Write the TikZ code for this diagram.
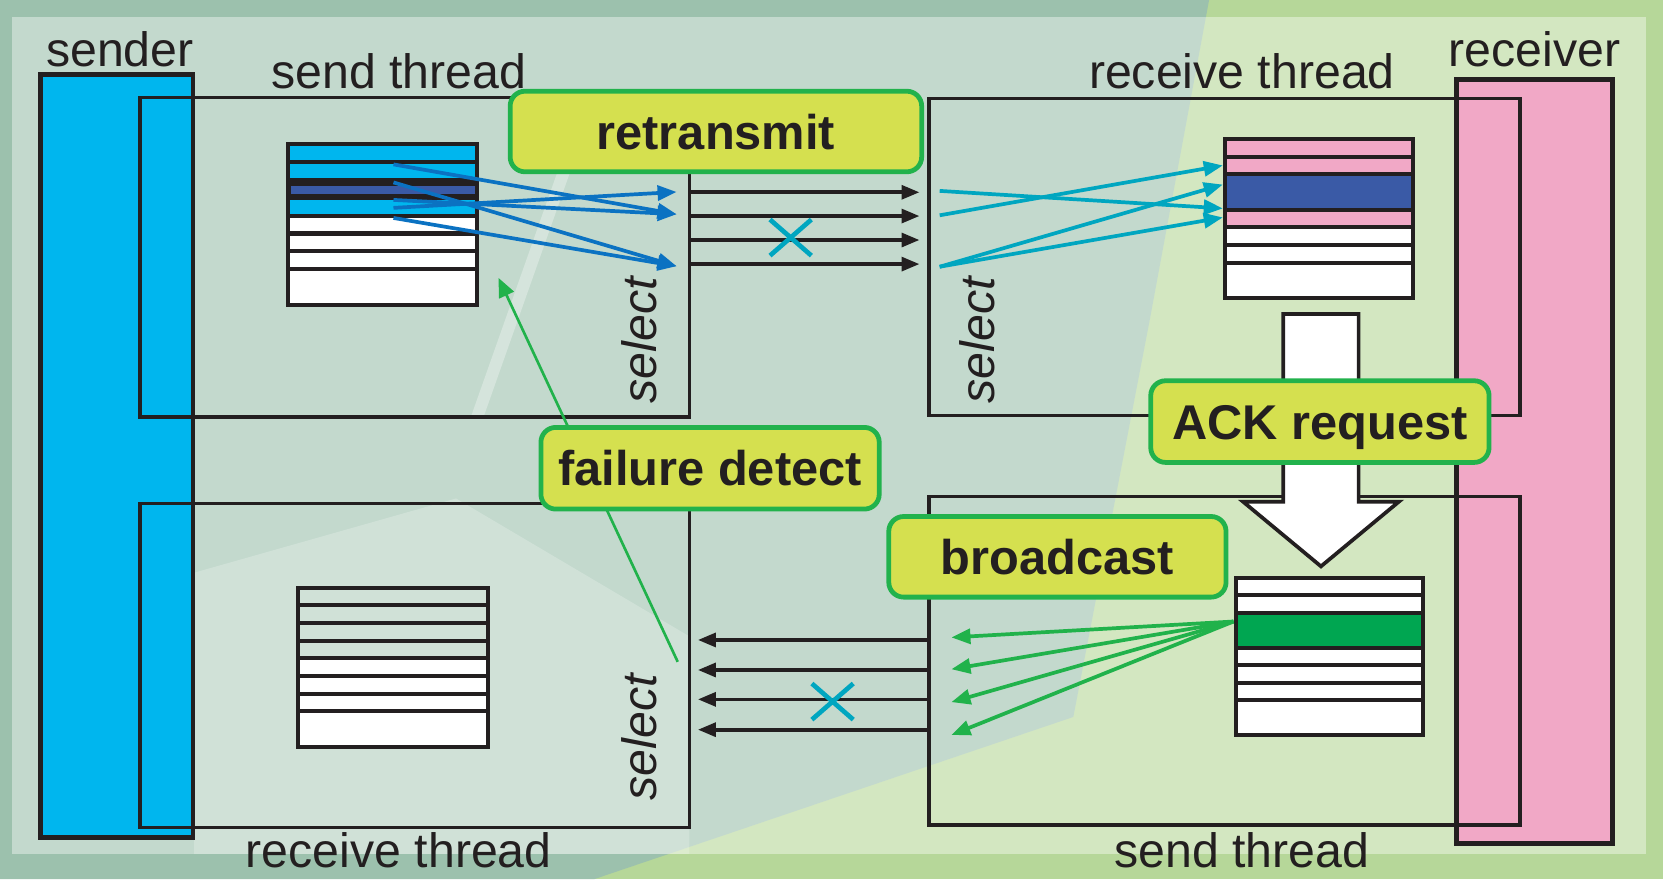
\documentclass[tikz,border=0pt]{standalone}
\usepackage{fontspec}
\setmainfont{Liberation Sans}
\usetikzlibrary{arrows.meta,calc}
\definecolor{ink}{HTML}{231F20}
\definecolor{bgG}{HTML}{B6D799}
\definecolor{bgT}{HTML}{9CC1AD}
\definecolor{sendc}{HTML}{00B6EE}
\definecolor{recvc}{HTML}{F1A8C6}
\definecolor{darkrow}{HTML}{3A5AA6}
\definecolor{greenrow}{HTML}{00A651}
\definecolor{bluearr}{HTML}{0B72C2}
\definecolor{tealarr}{HTML}{00A6C0}
\definecolor{greenarr}{HTML}{21B24B}
\definecolor{tagfill}{HTML}{D5E04F}
\definecolor{tagline}{HTML}{22B24C}
\newcommand{\membuf}[5]{%
  \foreach \a/\b/\c in {#5}{%
    \path[fill=\c] ({#1},{#2+\a*#4}) rectangle ({#1+#3},{#2+\b*#4});
  }%
  \foreach \a/\b/\c in {#5}{%
    \draw[ink, line width=3.8] ({#1},{#2+\b*#4}) -- ({#1+#3},{#2+\b*#4});
  }%
  \draw[ink, line width=3.8] (#1,#2) rectangle ({#1+#3},{#2+9*#4});
}
\begin{document}
\begin{tikzpicture}[x=1pt,y=-1pt,
  lbl/.style={font=\fontsize{45.5}{50}\selectfont, text=ink, inner sep=0pt, anchor=base},
  sel/.style={font=\itshape\fontsize{45.5}{50}\selectfont, text=ink, inner sep=0pt, anchor=base, rotate=90},
  tag/.style={draw=tagline, fill=tagfill, line width=4.5, rounded corners=14,
    font=\bfseries\fontsize{46}{50}\selectfont, text=ink, inner sep=0pt,
    text height=33pt, text depth=0pt},
  thr/.style={ink, line width=3.2},
  blk/.style={ink, line width=3.5, -{Triangle[length=17,width=13]}},
  blu/.style={bluearr, line width=3.5, -{Triangle[length=18,width=14]}},
  tea/.style={tealarr, line width=3.5, -{Triangle[length=18,width=14]}},
  grn/.style={greenarr, line width=3.5, -{Triangle[length=18,width=14]}},
  xmark/.style={tealarr, line width=4.4}
]
\useasboundingbox (0,0) rectangle (1568,829);
% background
\fill[bgG] (0,0) rectangle (1568,829);
\fill[bgT] (0,0) -- (1140,0) -- (1119,113) -- (1084,302) -- (1012,676) -- (560,829) -- (0,829) -- cycle;
\fill[white, opacity=0.4] (11,16) rectangle (1552,805);
\fill[white, opacity=0.22] (183,540) -- (430,470) -- (650,600) -- (650,805) -- (183,805) -- cycle;
\fill[white, opacity=0.3] (550,93) -- (562,93) -- (456,393) -- (444,393) -- cycle;

% sender and receiver
\draw[ink, line width=4.5, fill=sendc] (38,70) rectangle (182,790);
\draw[ink, line width=4.5, fill=recvc] (1373,75) rectangle (1520,795);
\node[lbl] (sendername) at (113,63) {sender};
\node[lbl] (recvname) at (1447,63) {receiver};

% thread boxes
\draw[thr] (132,92) rectangle (650,393);
\draw[thr] (132,475) rectangle (650,780);
\draw[thr] (876,93) rectangle (1433,392);
\draw[thr] (876,468) rectangle (1433,778);
\node[lbl] (st1) at (376,83) {send thread};
\node[lbl] (rt1) at (376,818) {receive thread};
\node[lbl] (rt2) at (1171,83) {receive thread};
\node[lbl] (st2) at (1171,818) {send thread};
\node[sel] (sel1) at (619,321) {select};
\node[sel] (sel2) at (619,695) {select};
\node[sel] (sel3) at (938,321) {select};

% buffers
\membuf{272}{136}{178}{16.83}{0/1/sendc,1/2/sendc,2/3/ink,3/4/sendc,4/5/white,5/6/white,6/7/white,7/9/white}
\fill[darkrow] (274,175) rectangle (448,182.5);
\membuf{1155}{131}{177}{16.667}{0/1/recvc,1/2/recvc,2/4/darkrow,4/5/recvc,5/6/white,6/7/white,7/9/white}
\membuf{281}{554}{179}{16.667}{0/1/none,1/2/none,2/3/none,3/4/none,4/5/white,5/6/white,6/7/white,7/9/white}
\membuf{1165}{545}{177}{16.44}{0/1/white,1/2/white,2/4/greenrow,4/5/white,5/6/white,6/7/white,7/9/white}

% coordinates
\coordinate (bs1) at (371,155);
\coordinate (bs2) at (371,172);
\coordinate (bs3) at (371,188.5);
\coordinate (bs4) at (371,196);
\coordinate (bs5) at (371,205.5);
\coordinate (bt1) at (638,181);
\coordinate (bt2) at (638,202);
\coordinate (bt3) at (638,251);
\foreach \i/\y in {1/181.3,2/203.7,3/226.3,4/249}{
  \coordinate (ls\i) at (649,\y);
  \coordinate (le\i) at (867,\y);
}
\coordinate (ts1) at (886,180);
\coordinate (ts2) at (886,203);
\coordinate (ts3) at (886,251.5);
\coordinate (tt1) at (1153,156);
\coordinate (tt2) at (1153,174);
\coordinate (tt3) at (1153,196.5);
\coordinate (tt4) at (1153,205);
\coordinate (gs) at (1163,586);
\foreach \i/\y in {1/601,2/631,3/662,4/693}{
  \coordinate (gt\i) at (897,\y);
}
\foreach \i/\y in {1/603.4,2/631.7,3/659.4,4/688}{
  \coordinate (rs\i) at (874,\y);
  \coordinate (re\i) at (658,\y);
}
\coordinate (fs) at (639,624);
\coordinate (ft) at (470,262);
\coordinate (x1) at (745.5,224);
\coordinate (x2) at (785,661.5);

% blue arrows (send buffer to select)
\draw[blu] (bs1) -- (bt2);
\draw[blu] (bs2) -- (bt3);
\draw[blu] (bs3) -- (bt2);
\draw[blu] (bs4) -- (bt1);
\draw[blu] (bs5) -- (bt3);
% links
\foreach \i in {1,...,4}{ \draw[blk] (ls\i) -- (le\i); }
\foreach \i in {1,...,4}{ \draw[blk] (rs\i) -- (re\i); }
\draw[xmark] ($(x1)+(-19.5,-17)$) -- ($(x1)+(19.5,17)$) ($(x1)+(-19.5,17)$) -- ($(x1)+(19.5,-17)$);
\draw[xmark] ($(x2)+(-19.5,-17)$) -- ($(x2)+(19.5,17)$) ($(x2)+(-19.5,17)$) -- ($(x2)+(19.5,-17)$);
% teal arrows (select to receive buffer)
\draw[tea] (ts1) -- (tt3);
\draw[tea] (ts2) -- (tt1);
\draw[tea] (ts3) -- (tt2);
\draw[tea] (ts3) -- (tt4);
% green arrows (broadcast)
\foreach \i in {1,...,4}{ \draw[grn] (gs) -- (gt\i); }
% failure detect
\draw[greenarr, line width=2.5, -{Triangle[length=18,width=15]}] (fs) -- (ft);

% ACK request big arrow
\draw[ink, line width=3.5, fill=white, line join=miter]
  (1210,296) -- (1281,296) -- (1281,473) -- (1319,473) -- (1245.5,534)
  -- (1172,473) -- (1210,473) -- cycle;

% tags
\node[tag, minimum width=388, minimum height=76] (retx) at (675,124) {retransmit};
\node[tag, minimum width=319, minimum height=77] (fail) at (669.5,441.5) {failure detect};
\node[tag, minimum width=319, minimum height=77] (ack) at (1244.5,397.5) {ACK request};
\node[tag, minimum width=318, minimum height=76] (bcast) at (997,525) {broadcast};
\end{tikzpicture}
\end{document}
